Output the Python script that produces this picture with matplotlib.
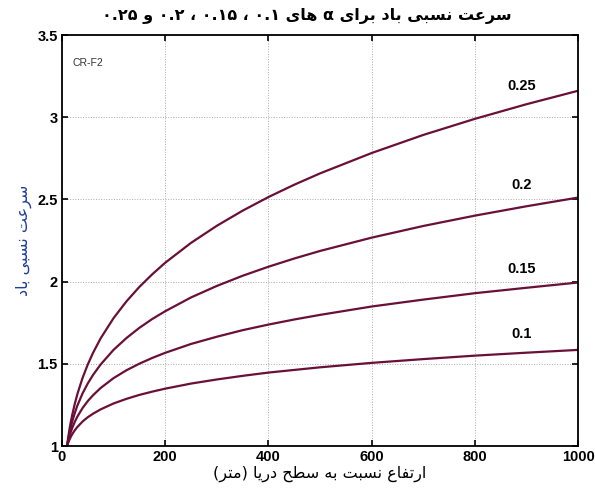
import re
import matplotlib
matplotlib.use("Agg")
import matplotlib.pyplot as plt

# heights (m) and relative wind speed
heights = [10, 11, 12, 15, 17, 20, 25, 30, 40, 50, 60, 75, 100, 125, 150, 175, 200,
           250, 300, 350, 400, 450, 500, 600, 700, 800, 900, 1000]
speed_010 = [1.0, 1.010, 1.018, 1.041, 1.054, 1.072, 1.096, 1.116, 1.149, 1.175, 1.196, 1.223, 1.259, 1.287,
             1.311, 1.331, 1.349, 1.380, 1.405, 1.427, 1.447, 1.463, 1.479, 1.506, 1.529, 1.550, 1.568, 1.585]
speed_015 = [1.0, 1.014, 1.028, 1.063, 1.083, 1.110, 1.147, 1.179, 1.231, 1.273, 1.308, 1.353, 1.413, 1.461,
             1.501, 1.536, 1.567, 1.621, 1.665, 1.705, 1.739, 1.770, 1.798, 1.849, 1.891, 1.930, 1.963, 1.995]
speed_020 = [1.0, 1.019, 1.037, 1.085, 1.112, 1.149, 1.201, 1.246, 1.320, 1.380, 1.431, 1.496, 1.585, 1.657,
             1.719, 1.773, 1.820, 1.904, 1.974, 2.036, 2.091, 2.141, 2.187, 2.268, 2.339, 2.402, 2.459, 2.512]
speed_025 = [1.0, 1.024, 1.047, 1.107, 1.142, 1.189, 1.257, 1.316, 1.414, 1.495, 1.565, 1.655, 1.778, 1.880,
             1.968, 2.045, 2.115, 2.236, 2.340, 2.432, 2.515, 2.590, 2.659, 2.783, 2.893, 2.991, 3.080, 3.162]
curve_labels = ["0.1", "0.15", "0.2", "0.25"]

title_text = "سرعت نسبی باد برای α های ۰.۱ ، ۰.۱۵ ، ۰.۲ و ۰.۲۵"
xlabel_text = "ارتفاع نسبت به سطح دریا (متر)"
ylabel_text = "سرعت نسبی باد"

# minimal arabic shaping (matplotlib does not join letters itself)
FORMS = {
    "ا": ("\uFE8D", "\uFE8E", None, None),
    "ب": ("\uFE8F", "\uFE90", "\uFE91", "\uFE92"),
    "ت": ("\uFE95", "\uFE96", "\uFE97", "\uFE98"),
    "ح": ("\uFEA1", "\uFEA2", "\uFEA3", "\uFEA4"),
    "د": ("\uFEA9", "\uFEAA", None, None),
    "ر": ("\uFEAD", "\uFEAE", None, None),
    "س": ("\uFEB1", "\uFEB2", "\uFEB3", "\uFEB4"),
    "ط": ("\uFEC1", "\uFEC2", "\uFEC3", "\uFEC4"),
    "ع": ("\uFEC9", "\uFECA", "\uFECB", "\uFECC"),
    "ف": ("\uFED1", "\uFED2", "\uFED3", "\uFED4"),
    "م": ("\uFEE1", "\uFEE2", "\uFEE3", "\uFEE4"),
    "ن": ("\uFEE5", "\uFEE6", "\uFEE7", "\uFEE8"),
    "ه": ("\uFEE9", "\uFEEA", "\uFEEB", "\uFEEC"),
    "و": ("\uFEED", "\uFEEE", None, None),
    "ی": ("\uFBFC", "\uFBFD", "\uFBFE", "\uFBFF"),
}
MIRROR = {"(": ")", ")": "("}


def shape(text):
    out = []
    for i, ch in enumerate(text):
        if ch not in FORMS:
            out.append(ch)
            continue
        iso, fin, ini, med = FORMS[ch]
        prev = text[i - 1] if i > 0 else ""
        nxt = text[i + 1] if i + 1 < len(text) else ""
        jp = prev in FORMS and FORMS[prev][2] is not None
        jn = ini is not None and nxt in FORMS
        if jp and jn:
            out.append(med)
        elif jp:
            out.append(fin)
        elif jn:
            out.append(ini)
        else:
            out.append(iso)
    return "".join(out)


def rtl(text):
    runs = re.findall(r"[0-9\u06F0-\u06F9.]+|[^0-9\u06F0-\u06F9.]+", shape(text))
    vis = []
    for r in reversed(runs):
        if re.match(r"[0-9\u06F0-\u06F9.]", r):
            vis.append(r)
        else:
            vis.append("".join(MIRROR.get(c, c) for c in reversed(r)))
    return "".join(vis)


line_color = "#6a1038"

fig = plt.figure(figsize=(5.95, 4.88), dpi=100)
ax = fig.add_axes([0.104, 0.086, 0.868, 0.842])

for ys in [speed_010, speed_015, speed_020, speed_025]:
    ax.plot(heights, ys, color=line_color, lw=1.6, solid_joinstyle="round")

label_pos = [(890, 1.68), (890, 2.08), (890, 2.59), (890, 3.19)]
for lab, (x, y) in zip(curve_labels, label_pos):
    ax.text(x, y, lab, ha="center", va="center", fontsize=10.5, fontweight="bold",
            family=["Liberation Sans", "DejaVu Sans"])

ax.text(20, 3.33, "CR-F2", ha="left", va="center", fontsize=7.5, color="#333333",
        family=["Liberation Sans", "DejaVu Sans"])

ax.set_xlim(0, 1000)
ax.set_ylim(1, 3.5)
ax.set_xticks([0, 200, 400, 600, 800, 1000])
ax.set_yticks([1, 1.5, 2, 2.5, 3, 3.5])
ax.set_xticklabels(["0", "200", "400", "600", "800", "1000"])
ax.set_yticklabels(["1", "1.5", "2", "2.5", "3", "3.5"])
for lab in ax.get_xticklabels() + ax.get_yticklabels():
    lab.set_family(["Liberation Sans", "DejaVu Sans"])
    lab.set_fontweight("bold")
    lab.set_fontsize(10.5)
ax.tick_params(direction="in", top=True, right=True, length=4, width=1.2, pad=3)
ax.grid(True, linestyle=":", color="#aaaaaa", linewidth=0.7)
for sp in ax.spines.values():
    sp.set_linewidth(1.3)

ax.set_xlabel(rtl(xlabel_text), fontsize=11.5, family="DejaVu Sans", labelpad=1)
ax.set_ylabel(rtl(ylabel_text), fontsize=11.5, family="DejaVu Sans", color="#1f3f9a", labelpad=4)
fig.text(0.515, 0.968, rtl(title_text), ha="center", va="center", fontsize=11.5,
         fontweight="bold", family="DejaVu Sans")

fig.savefig("out.png", dpi=100, facecolor="white")
